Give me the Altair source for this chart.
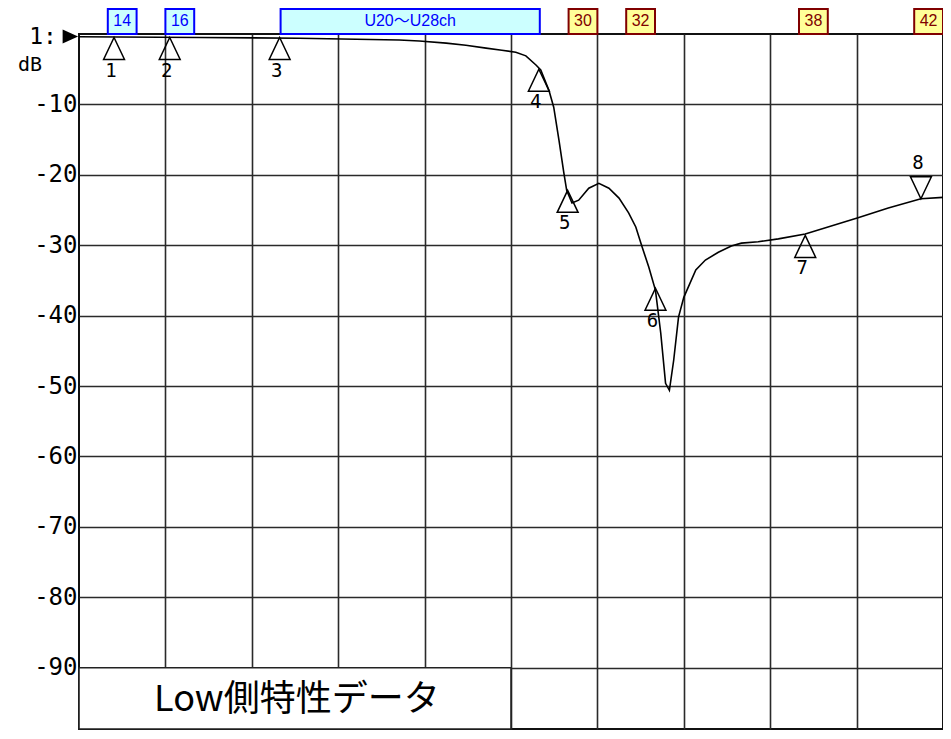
import altair as alt
import pandas as pd

# ---- trace (frequency MHz, level dB) ----
freq = [470.0, 495.2, 515.9, 536.7, 540.9, 546.5, 550.6, 554.8, 558.1, 561.0,
        563.1, 565.2, 566.2, 567.9, 568.9, 570.0, 571.0, 571.6, 572.7, 574.1,
        576.2, 578.3, 580.4, 582.5, 584.5, 586.0, 587.2, 588.7, 590.1, 591.2,
        592.2, 593.0, 593.9, 594.9, 596.0, 598.5, 600.5, 603.2, 605.9, 608.0,
        611.5, 615.7, 621.3, 632.3, 638.6, 645.4, 650.0]
level = [-0.4, -0.5, -0.6, -0.85, -1.0, -1.3, -1.6, -2.0, -2.3, -2.6,
         -3.1, -4.4, -5.1, -8.0, -10.4, -15.1, -19.7, -22.2, -24.0, -23.6,
         -21.9, -21.2, -21.9, -23.3, -25.4, -27.4, -30.0, -33.1, -36.4, -42.5,
         -49.6, -50.6, -46.3, -40.2, -37.4, -33.5, -32.1, -31.0, -30.1, -29.7,
         -29.5, -29.1, -28.4, -26.1, -24.7, -23.4, -23.2]

# ---- markers ----
marker_name = ["1", "2", "3", "4", "5", "6", "7", "8"]
marker_freq = [477.3, 488.9, 511.8, 565.8, 571.8, 590.1, 621.3, 645.4]
marker_level = [-0.5, -0.5, -0.5, -5.0, -22.2, -36.1, -28.6, -23.4]
marker_dir = ["up", "up", "up", "up", "up", "up", "up", "down"]

# ---- channel boxes above the plot ----
ch_label = ["14", "16", "U20～U28ch", "30", "32", "38", "42"]
ch_start = [476, 488, 512, 572, 584, 620, 644]
ch_end = [482, 494, 566, 578, 590, 626, 650]
ch_group = ["blue", "blue", "blue", "yellow", "yellow", "yellow", "yellow"]

y_ticks = [-10, -20, -30, -40, -50, -60, -70, -80, -90]
x_grid = [488, 506, 524, 542, 560, 578, 596, 614, 632]
Y_MIN = -98.7

FILL = {"blue": "#ccffff", "yellow": "#ffff99"}
EDGE = {"blue": "#0000ff", "yellow": "#800000"}

trace = pd.DataFrame({"f": freq, "db": level})
mk = pd.DataFrame({"f": marker_freq, "db": marker_level, "name": marker_name, "dir": marker_dir})
mk["shape"] = ["M0,0L0.95,2L-0.95,2Z" if d == "up" else "M0,0L0.95,-2L-0.95,-2Z" for d in marker_dir]
ch = pd.DataFrame({"f1": ch_start, "f2": ch_end, "label": ch_label, "g": ch_group})
ch["fill"] = [FILL[g] for g in ch_group]
ch["edge"] = [EDGE[g] for g in ch_group]
ch["fm"] = [(a + b) / 2 for a, b in zip(ch_start, ch_end)]
ch["y1"] = 0.0
ch["y2"] = 3.55
ch["ym"] = 1.85

xs = alt.Scale(domain=[470, 650], nice=False, zero=False)
ys = alt.Scale(domain=[Y_MIN, 0], nice=False, zero=False)

X = lambda f: alt.X(f, type="quantitative", scale=xs,
                    axis=alt.Axis(values=x_grid, labels=False, ticks=False, domain=False,
                                  title=None, grid=True, gridColor="#2a2a2a", gridWidth=1.6,
                                  gridOpacity=1))
Y = lambda f: alt.Y(f, type="quantitative", scale=ys,
                    axis=alt.Axis(values=y_ticks, ticks=False, domain=False, title=None,
                                  grid=True, gridColor="#2a2a2a", gridWidth=1.6, gridOpacity=1,
                                  labelExpr="'-' + toString(abs(datum.value))",
                                  labelFont="DejaVu Sans Mono", labelFontSize=24,
                                  labelColor="#000", labelPadding=2, labelBaseline="middle"))

line = alt.Chart(trace).mark_line(color="#000", strokeWidth=1.6).encode(
    x=X("f"), y=Y("db"))

tri = alt.Chart(mk).mark_point(filled=False, stroke="#000", strokeWidth=1.5, size=484,
                               opacity=1).encode(
    x=alt.X("f:Q", scale=xs), y=alt.Y("db:Q", scale=ys),
    shape=alt.Shape("shape:N", scale=None))

lab_up = alt.Chart(mk).transform_filter("datum.dir == 'up'").mark_text(
    font="DejaVu Sans Mono", fontSize=19, color="#000", dy=33, dx=-3, baseline="middle").encode(
    x=alt.X("f:Q", scale=xs), y=alt.Y("db:Q", scale=ys), text="name:N")
lab_dn = alt.Chart(mk).transform_filter("datum.dir == 'down'").mark_text(
    font="DejaVu Sans Mono", fontSize=19, color="#000", dy=-36, dx=-3, baseline="middle").encode(
    x=alt.X("f:Q", scale=xs), y=alt.Y("db:Q", scale=ys), text="name:N")

boxes = alt.Chart(ch).mark_rect(strokeWidth=2).encode(
    x=alt.X("f1:Q", scale=xs), x2="f2:Q",
    y=alt.Y("y1:Q", scale=ys), y2="y2:Q",
    fill=alt.Fill("fill:N", scale=None), stroke=alt.Stroke("edge:N", scale=None))
box_txt = alt.Chart(ch).mark_text(font="Liberation Sans, Noto Sans CJK JP", fontSize=16,
                                  baseline="middle").encode(
    x=alt.X("fm:Q", scale=xs), y=alt.Y("ym:Q", scale=ys), text="label:N",
    color=alt.Color("edge:N", scale=None))

# left-top annotations ("1:" reference marker and unit)
ann = pd.DataFrame({"f": [462.5, 459.8], "db": [-0.45, -4.4], "t": ["1:", "dB"],
                    "size": [23, 20]})
ann_txt = alt.Chart(ann).mark_text(font="DejaVu Sans Mono", color="#000",
                                   baseline="middle").encode(
    x=alt.X("f:Q", scale=xs), y=alt.Y("db:Q", scale=ys), text="t:N",
    size=alt.Size("size:Q", scale=None))
ref = pd.DataFrame({"f": [468.2], "db": [-0.36]})
ref_tri = alt.Chart(ref).mark_point(filled=True, color="#000", opacity=1, size=240,
                                    shape="M-1,-0.9L1,0L-1,0.9Z").encode(
    x=alt.X("f:Q", scale=xs), y=alt.Y("db:Q", scale=ys))

# bottom-left caption box
cap = pd.DataFrame({"f1": [470], "f2": [560], "y1": [Y_MIN], "y2": [-90],
                    "fm": [515.4], "ym": [-94.6], "t": ["Low側特性データ"]})
cap_box = alt.Chart(cap).mark_rect(fill="#ffffff", stroke="#222", strokeWidth=1.6).encode(
    x=alt.X("f1:Q", scale=xs), x2="f2:Q", y=alt.Y("y1:Q", scale=ys), y2="y2:Q")
cap_txt = alt.Chart(cap).mark_text(font="Noto Sans CJK JP", fontSize=36, color="#000",
                                   baseline="middle").encode(
    x=alt.X("fm:Q", scale=xs), y=alt.Y("ym:Q", scale=ys), text="t:N")

chart = alt.layer(line, cap_box, cap_txt, tri, lab_up, lab_dn, boxes, box_txt,
                  ann_txt, ref_tri).properties(
    width=864, height=695,
    autosize=alt.AutoSizeParams(type="none"),
    padding={"left": 71, "top": 26, "right": 0, "bottom": 1},
).configure_view(stroke="#111", strokeWidth=2)

chart.save("out.html", embed_options={"renderer": "svg", "actions": False})
